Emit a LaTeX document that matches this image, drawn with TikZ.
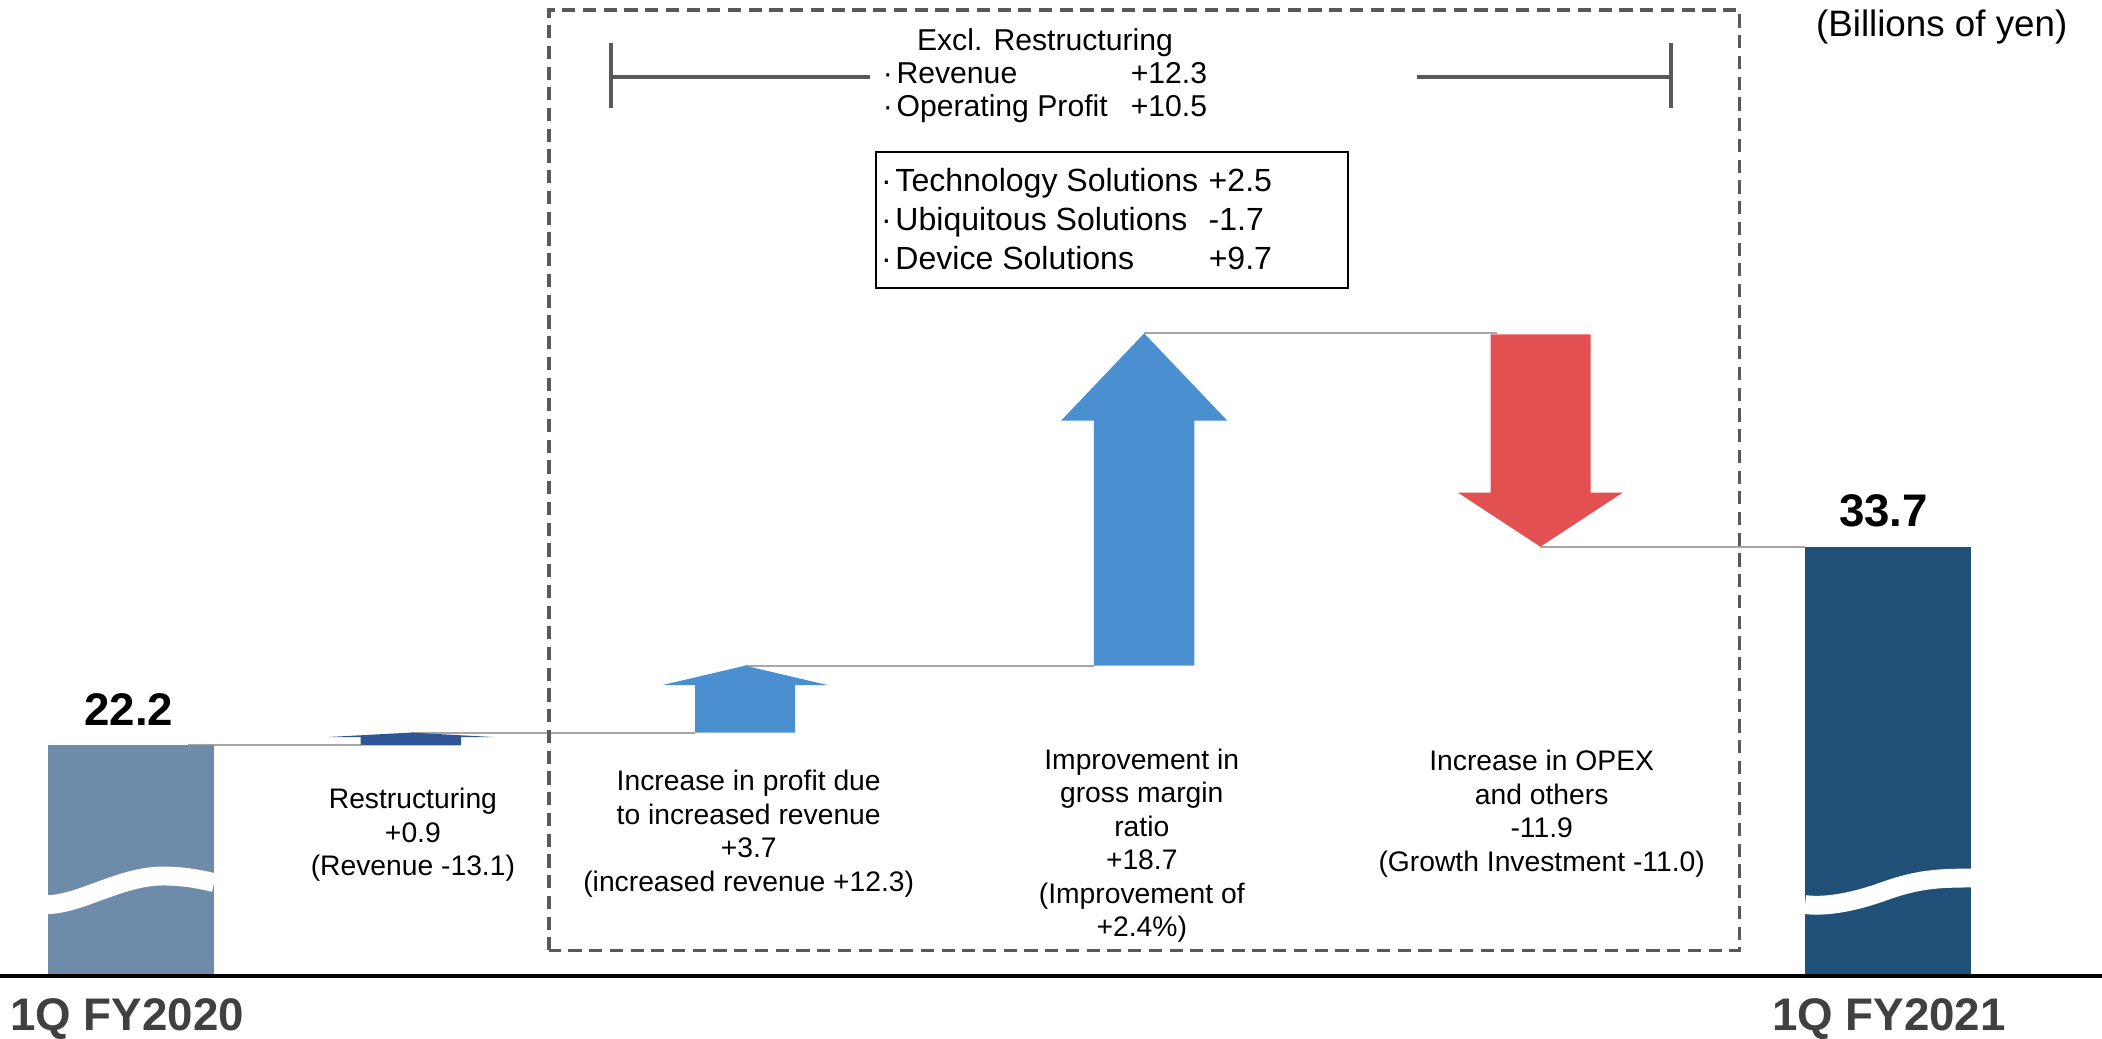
\documentclass[tikz,border=0pt]{standalone}
\usepackage{fontspec}
\setmainfont{Liberation Sans}
\usepackage{xcolor}
\definecolor{barold}{HTML}{6E8CAA}
\definecolor{barnew}{HTML}{204F78}
\definecolor{restr}{HTML}{2F5597}
\definecolor{upblue}{HTML}{4A8FCF}
\definecolor{downred}{HTML}{E35052}
\definecolor{framegray}{HTML}{595959}
\definecolor{joingray}{HTML}{A6A6A6}
\definecolor{yeargray}{HTML}{404040}
\usetikzlibrary{positioning}
\newcommand{\bdot}{·\kern0.8pt}

\tikzset{
  joiner/.style={draw=joingray, line width=0.45pt},
  wave/.style={draw=white, line width=4pt},
  steplabel/.style={align=center, inner sep=0pt, anchor=north, font=\fontsize{6}{7.1}\selectfont},
  total/.style={inner sep=0pt, anchor=base, font=\fontsize{9.7}{11}\selectfont\bfseries},
  yearlabel/.style={inner sep=0pt, anchor=base, text=yeargray, font=\fontsize{9.7}{11}\selectfont\bfseries},
  bracket/.style={draw=framegray, line width=0.85pt},
}

\begin{document}
\begin{tikzpicture}
\useasboundingbox (0,-0.47) rectangle (15.68,7.28);

% levels
  \coordinate (lvl20) at (1.40,1.72);
  \coordinate (rfoot) at (2.69,1.72);
  \coordinate (rtip) at (3.065,1.815);
  \coordinate (afoot) at (5.185,1.815);
  \coordinate (atip) at (5.558,2.314);
  \coordinate (gfoot) at (8.16,2.314);
  \coordinate (gtip) at (8.535,4.793);
  \coordinate (otop) at (11.17,4.793);
  \coordinate (otip) at (11.49,3.202);
  \coordinate (lvl21) at (13.465,3.202);

  \draw[joiner] (lvl20) -- (rfoot);
  \draw[joiner] (rtip) -- (afoot);
  \draw[joiner] (atip) -- (gfoot);
  \draw[joiner] (gtip) -- (otop);
  \draw[joiner] (otip) -- (lvl21);

% 1Q FY2020
  \fill[barold] (0.356,0) rectangle (1.597,1.72);
  \draw[wave] (0.356,0.532) .. controls (0.60,0.535) and (0.90,0.745) .. (1.216,0.745) .. controls (1.38,0.745) and (1.49,0.72) .. (1.597,0.696);
  \node[total] (v20) at (0.96,1.87) {22.2};
  \node[yearlabel, anchor=base west] (fy20) at (0.07,-0.41) {1Q FY2020};

% Restructuring
  \fill[restr] (2.69,1.72) -- (3.44,1.72) -- (3.44,1.782) -- (3.68,1.782) -- (rtip) -- (2.45,1.782) -- (2.69,1.782) -- cycle;
  \node[steplabel] (rlbl) at (3.08,1.405) {Restructuring\\+0.9\\(Revenue -13.1)};

% increased revenue
  \fill[upblue] (afoot) -- (5.931,1.815) -- (5.931,2.17) -- (6.172,2.17) -- (atip) -- (4.944,2.17) -- (5.185,2.17) -- cycle;
  \node[steplabel] (albl) at (5.585,1.54) {Increase in profit due\\to increased revenue\\+3.7\\(increased revenue +12.3)};

% gross margin
  \fill[upblue] (gfoot) -- (8.91,2.314) -- (8.91,4.142) -- (9.155,4.142) -- (gtip) -- (7.915,4.142) -- (8.16,4.142) -- cycle;
  \node[steplabel] (glbl) at (8.517,1.70) {Improvement in\\gross margin\\ratio\\+18.7\\(Improvement of\\+2.4\%)};

% OPEX
  \fill[downred] (11.12,4.785) -- (11.865,4.785) -- (11.865,3.605) -- (12.105,3.605) -- (otip) -- (10.875,3.605) -- (11.12,3.605) -- cycle;
  \node[steplabel] (olbl) at (11.50,1.69) {Increase in OPEX\\and others\\-11.9\\(Growth Investment -11.0)};

% 1Q FY2021
  \fill[barnew] (13.465,0) rectangle (14.704,3.202);
  \draw[wave] (13.465,0.532) .. controls (13.60,0.515) and (13.80,0.54) .. (14.05,0.63) .. controls (14.30,0.72) and (14.45,0.73) .. (14.704,0.73);
  \node[total] (v21) at (14.05,3.35) {33.7};
  \node[yearlabel] (fy21) at (14.09,-0.41) {1Q FY2021};

% axis
  \draw[line width=0.85pt] (0,0) -- (15.68,0);

% excl. restructuring frame
  \draw[framegray, line width=0.7pt, dash pattern=on 2.8pt off 1.6pt] (4.095,0.19) rectangle (12.975,7.205);

  \node[anchor=base west, inner sep=0pt, font=\fontsize{6.4}{6.94}\selectfont] (excl) at (6.578,6.902)
    {\begin{tabular}[t]{@{}l@{\hspace{4.9pt}}l@{}}
      \multicolumn{2}{c}{Excl. Restructuring}\\
      \bdot Revenue & +12.3\\
      \bdot Operating Profit & +10.5
    \end{tabular}};

  % bracket
  \coordinate (brlt) at (4.56,6.957);
  \coordinate (brlb) at (4.56,6.472);
  \coordinate (brlm) at (4.56,6.703);
  \coordinate (brle) at (6.49,6.703);
  \coordinate (brrs) at (10.57,6.703);
  \coordinate (brrm) at (12.465,6.703);
  \coordinate (brrt) at (12.465,6.957);
  \coordinate (brrb) at (12.465,6.472);
  \draw[bracket] (brlt) -- (brlb);
  \draw[bracket] (brlm) -- (brle);
  \draw[bracket] (brrs) -- (brrm);
  \draw[bracket] (brrt) -- (brrb);

  % segments
  \node[draw, line width=0.4pt, minimum width=3.516cm, minimum height=1.009cm, inner sep=0pt, anchor=north west] (segbox) at (6.53,6.15) {};
  \node[anchor=base west, inner sep=0pt, font=\fontsize{6.8}{8.24}\selectfont] (segs) at (6.565,5.85)
    {\begin{tabular}[t]{@{}p{2.445cm}@{}l@{}}
      \bdot Technology Solutions & +2.5\\
      \bdot Ubiquitous Solutions & -1.7\\
      \bdot Device Solutions & +9.7
    \end{tabular}};

% unit
  \node[anchor=base west, inner sep=0pt, font=\fontsize{7.8}{9}\selectfont] (unit) at (13.54,7.006) {(Billions of yen)};

\end{tikzpicture}
\end{document}
